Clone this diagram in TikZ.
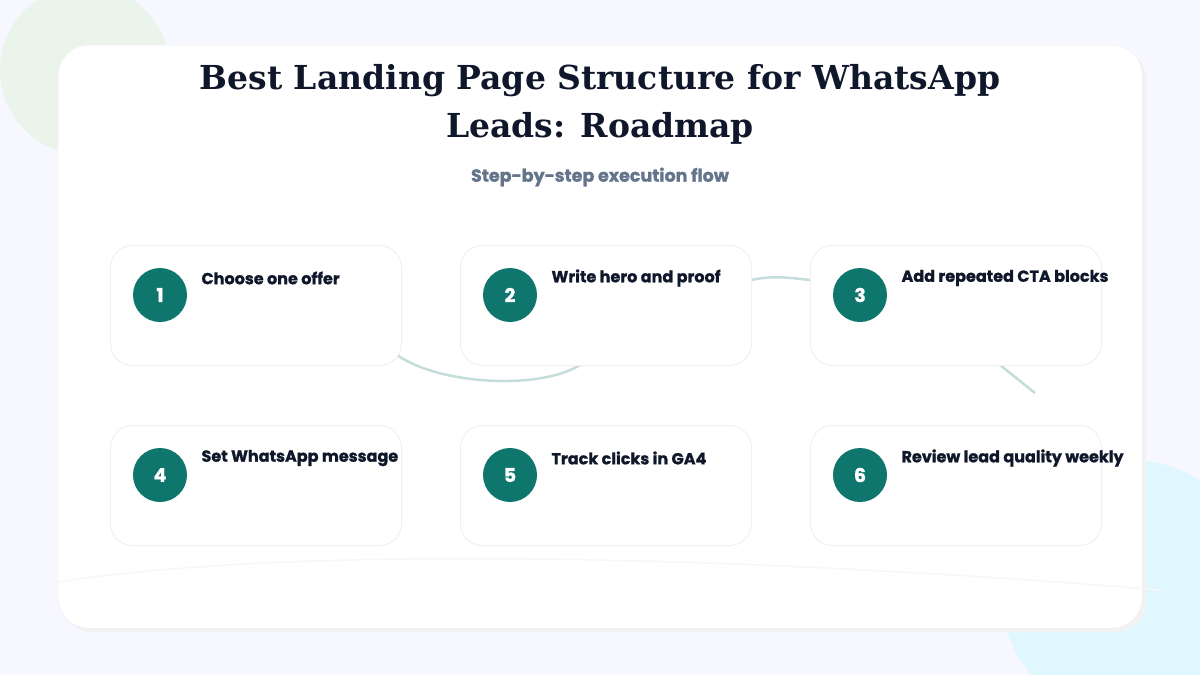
\documentclass[tikz,border=0pt]{standalone}
\usepackage{fontspec}
\setmainfont{DejaVu Serif}
\newfontfamily\pop{Poppins}[BoldFeatures={FakeBold=1.2}]
\definecolor{tl}{HTML}{0F766E}
\definecolor{sg}{HTML}{64748B}
\definecolor{ink}{HTML}{0F172A}
\begin{document}
\begin{tikzpicture}[x=1pt,y=-1pt,
  card/.style={draw=black!6,line width=1pt,fill=white,rounded corners=22pt,minimum width=291pt,minimum height=120pt,anchor=north west},
  num/.style={circle,fill=tl,text=white,minimum size=54pt,inner sep=0pt,font=\pop\bfseries\fontsize{19}{19}\selectfont},
  lab/.style={anchor=west,font=\pop\bfseries\fontsize{16}{18}\selectfont,text=ink},
  link/.style={draw=tl!25,line width=2.5pt}]
\useasboundingbox (0,0) rectangle (1200,675);
\fill[white!97!blue] (0,0) rectangle (1200,675);
\fill[green!30!gray!12] (85,70) circle (85);
\fill[blue!25!cyan!12] (1130,590) circle (130);
\fill[black!5,rounded corners=30pt] (62,49) rectangle (1146,632);
\node[draw=black!7,fill=white,rounded corners=30pt,minimum width=1084pt,minimum height=583pt,anchor=north west] (main) at (58,45) {};
\draw[black!3,line width=1.5pt] (40,585) .. controls (300,540) and (800,560) .. (1160,590);
\node[font=\bfseries\fontsize{33}{48}\selectfont,text=ink,align=center] (title) at (600,104) {Best Landing Page Structure for WhatsApp\\Leads: Roadmap};
\node[font=\pop\bfseries\fontsize{17.5}{20}\selectfont,text=sg] (sub) at (600,177) {Step-by-step execution flow};
\coordinate (a1) at (397,355);
\coordinate (a2) at (580,365);
\coordinate (b2) at (751,280);
\coordinate (b3) at (810,280);
\coordinate (d3) at (1000,365);
\coordinate (e3) at (1035,393);
\draw[link] (a1) .. controls (440,385) and (540,390) .. (a2);
\draw[link] (b2) .. controls (775,275) and (790,278) .. (b3);
\draw[link] (d3) -- (e3);
\foreach \i/\x/\y/\t in {1/110/245/Choose one offer,2/460/245/Write hero and proof,3/810/245/Add repeated CTA blocks,4/110/425/Set WhatsApp message,5/460/425/Track clicks in GA4,6/810/425/Review lead quality weekly}{
  \node[card] (c\i) at (\x,\y) {};
  \node[num] (n\i) at (\x+50,\y+50) {\i};
  \node[lab] (l\i) at (\x+88,\y+33) {\t};
}
\end{tikzpicture}
\end{document}
